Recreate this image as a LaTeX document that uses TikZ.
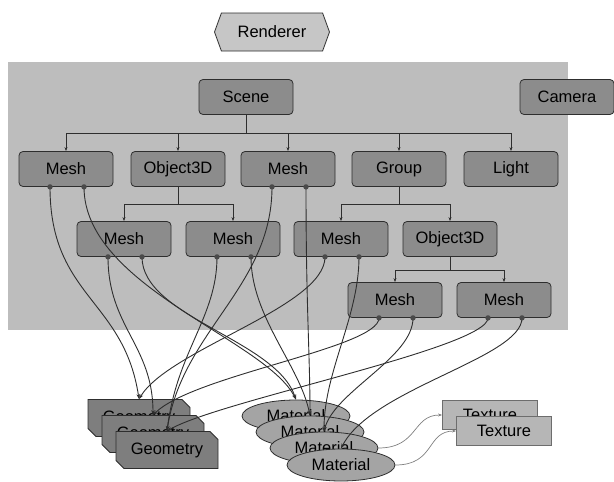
\documentclass[tikz,border=0pt]{standalone}
\usepackage{fontspec}
\setmainfont{Liberation Sans}
\usetikzlibrary{arrows.meta,shapes.misc,shapes.symbols,shapes.geometric}

\definecolor{hgrau}{HTML}{BDBDBD}
\definecolor{boxgrau}{HTML}{8C8C8C}
\definecolor{geograu}{HTML}{7E7E7E}
\definecolor{matgrau}{HTML}{A4A4A4}
\definecolor{texgrau}{HTML}{B6B6B6}
\definecolor{rendgrau}{HTML}{C6C6C6}
\definecolor{linie}{HTML}{2E2E2E}
\definecolor{punkt}{HTML}{4A4A4A}

\tikzset{
    schrift/.style={font=\fontsize{16.5}{18}\selectfont},
    box/.style={schrift, draw=linie, fill=boxgrau, line width=0.8pt, rounded corners=4pt,
        minimum width=94pt, minimum height=35pt, inner sep=0pt},
    geo/.style={schrift, chamfered rectangle, chamfered rectangle corners={north east,south west},
        chamfered rectangle xsep=4pt, chamfered rectangle ysep=4pt, draw=linie, fill=geograu,
        line width=0.8pt, minimum width=102pt, minimum height=37pt, inner sep=0pt},
    mat/.style={schrift, ellipse, draw=linie, fill=matgrau, line width=0.8pt,
        minimum width=108pt, minimum height=32pt, inner sep=0pt},
    tex/.style={schrift, draw=linie!70, fill=texgrau, line width=0.8pt,
        minimum width=95pt, minimum height=29pt, inner sep=0pt},
    baum/.style={draw=linie, line width=0.7pt, -{Stealth[length=4pt,width=3pt]}},
    kurve/.style={draw=linie, line width=0.9pt, -{Stealth[length=5pt,width=3.5pt]}},
    texpfeil/.style={draw=gray, line width=0.7pt, -{Stealth[length=4pt,width=3pt]}},
}

\begin{document}
\begin{tikzpicture}[x=1pt,y=-1pt]
    \useasboundingbox (0,0) rectangle (614,482);

    % Hintergrund der Szene
    \fill[hgrau] (8,62) rectangle (568,330);

    \node[schrift, signal, signal to=west and east, signal pointer angle=140, draw=linie,
        fill=rendgrau, line width=0.8pt, minimum width=115pt, minimum height=38pt,
        inner sep=0pt] (renderer) at (272,32) {Renderer};

    % Szenengraph
    \node[box] (scene) at (246,97) {Scene};
    \node[box] (camera) at (567,97) {Camera};

    \node[box] (mesh1) at (66,169) {Mesh};
    \node[box] (obj1) at (178,169) {Object3D};
    \node[box] (mesh2) at (288,169) {Mesh};
    \node[box] (group) at (399,169) {Group};
    \node[box] (light) at (511,169) {Light};

    \node[box] (mesh3) at (124,239) {Mesh};
    \node[box] (mesh4) at (233,239) {Mesh};
    \node[box] (mesh5) at (341,239) {Mesh};
    \node[box] (obj2) at (450,239) {Object3D};

    \node[box] (mesh6) at (395,300) {Mesh};
    \node[box] (mesh7) at (504,300) {Mesh};

    \foreach \k in {mesh1,obj1,mesh2,group,light}
        \draw[baum] (scene.south) -- ++(0,18.5) -| (\k.north);
    \foreach \k in {mesh3,mesh4}
        \draw[baum] (obj1.south) -- ++(0,17) -| (\k.north);
    \foreach \k in {mesh5,obj2}
        \draw[baum] (group.south) -- ++(0,17) -| (\k.north);
    \foreach \k in {mesh6,mesh7}
        \draw[baum] (obj2.south) -- ++(0,13) -| (\k.north);

    % Geometrie, Material, Textur
    \node[geo] (geoA) at (139,418) {Geometry};
    \node[geo] (geoB) at (153,434) {Geometry};
    \node[geo] (geoC) at (167,450) {Geometry};

    \node[mat] (matA) at (296,416) {Material};
    \node[mat] (matB) at (310,432) {Material};
    \node[mat] (matC) at (324,448) {Material};
    \node[mat] (matD) at (341,465) {Material};

    \node[tex] (texA) at (490,415) {Texture};
    \node[tex] (texB) at (504,431) {Texture};

    \draw[texpfeil] (matC.east) .. controls +(40,0) and +(-30,0) .. (texA.west);
    \draw[texpfeil] (matD.east) .. controls +(40,0) and +(-30,0) .. (texB.west);

    % Anschlusspunkte der Meshes
    \foreach \m in {mesh1,mesh2,mesh3,mesh4,mesh5,mesh6,mesh7} {
        \coordinate (\m g) at ([xshift=-16pt]\m.south);
        \coordinate (\m m) at ([xshift=18pt]\m.south);
    }

    % Verbindungen zur Geometrie
    \draw[kurve] (mesh1g) .. controls +(0,110) and +(-15,-100) .. (geoA.north);
    \draw[kurve] (mesh5g) .. controls +(0,50) and +(30,-50) .. (geoA.north);
    \draw[kurve] (mesh3g) .. controls +(0,70) and +(0,-70) .. (geoB.north);
    \draw[kurve] (mesh6g) .. controls +(0,30) and +(40,-40) .. (geoB.north);
    \draw[kurve] (mesh4g) .. controls +(0,60) and +(10,-80) .. (geoC.north);
    \draw[kurve] (mesh2g) .. controls +(0,100) and +(15,-100) .. (geoC.north);
    \draw[kurve] (mesh7g) .. controls +(0,30) and +(50,-30) .. (geoC.north);

    % Verbindungen zum Material
    \draw[kurve] (mesh1m) .. controls +(0,100) and +(-30,-60) .. (matA.north);
    \draw[kurve] (mesh3m) .. controls +(0,60) and +(-20,-60) .. (matA.north);
    \draw[kurve] (mesh4m) .. controls +(0,60) and +(-10,-50) .. (matB.north);
    \draw[kurve] (mesh2m) .. controls +(0,120) and +(0,-60) .. (matB.north);
    \draw[kurve] (mesh5m) .. controls +(0,60) and +(0,-60) .. (matC.north);
    \draw[kurve] (mesh6m) .. controls +(0,40) and +(10,-40) .. (matC.north);
    \draw[kurve] (mesh7m) .. controls +(0,40) and +(30,-60) .. (matD.north);

    \foreach \m in {mesh1,mesh2,mesh3,mesh4,mesh5,mesh6,mesh7} {
        \fill[punkt] (\m g) circle (2.7pt);
        \fill[punkt] (\m m) circle (2.7pt);
    }
\end{tikzpicture}
\end{document}
